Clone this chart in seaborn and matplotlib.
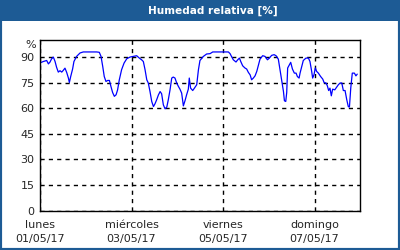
import numpy as np
import pandas as pd
import matplotlib
matplotlib.use("Agg")
import matplotlib.pyplot as plt
import matplotlib.dates as mdates
from matplotlib.patches import Rectangle
import seaborn as sns

# hours since 01/05/17 00:00 and relative humidity (%)
hours = [0, 1.75, 3.5, 4.4, 5.2, 6.1, 7, 7.9, 8.7, 9.6, 10.5, 11.4, 12.2, 13.1, 14, 14.9, 15.4,
         16.1, 17.1, 17.8, 19.2, 21, 22.7, 26.2, 29.7, 31.1, 32, 32.9, 33.7, 34.6, 35.5, 36.4,
         37.2, 38.1, 39, 39.9, 40.7, 41.6, 42.8, 44.1, 45.5, 47.2, 49, 50.7, 52.1, 53.3, 54.2,
         55.1, 56, 56.8, 57.7, 58.6, 59.5, 60.3, 61.2, 62.1, 63, 63.8, 64.7, 65.6, 66.5, 67.3,
         68.2, 69.1, 69.9, 70.8, 71.7, 72.6, 73.4, 74.3, 75.2, 76.1, 76.9, 77.8, 78.3, 79, 80.1,
         81, 82.2, 83.1, 83.9, 85.7, 87.4, 89.2, 90.6, 92.7, 96.2, 98.8, 99.7, 100.6, 101.4,
         102.8, 103.7, 104.6, 105.3, 106.3, 107.5, 108.4, 109.3, 110.2, 111, 111.9, 112.8,
         113.7, 114.5, 115.4, 116.8, 118, 119.3, 120.3, 121.5, 122.8, 123.8, 125, 125.9, 126.8,
         127.7, 128.2, 128.9, 129.4, 129.9, 130.8, 131.5, 132.4, 133.4, 134.3, 135, 135.9,
         136.4, 137.3, 138.1, 139.5, 140.8, 141.6, 142.5, 143, 143.7, 144.4, 145.1, 146, 147.2,
         148.3, 149, 150, 150.7, 151.4, 152.1, 152.8, 153.5, 154.6, 155.6, 156.5, 157.4, 158.3,
         159.1, 160, 160.9, 161.7, 162.3, 163, 163.8, 164.9, 165.7, 166.4]
humidity = [86.6, 87.4, 88, 86, 87, 89, 90, 87.4, 84, 81.2, 82, 81.2, 82.2, 83.5, 81, 77.7, 75.1,
            78.6, 83, 87.4, 90.4, 92.4, 93, 93, 93, 92.8, 90.4, 84.5, 78.6, 75.7, 76.3, 76.3,
            72.8, 69.2, 67, 67.9, 70.8, 76.7, 82.6, 86.5, 89, 90, 90.4, 90.8, 89.4, 88.4, 87.4,
            82.6, 76.7, 74.8, 69.8, 64, 61, 62.6, 65, 67.8, 69.8, 68.5, 62, 59.7, 60.7, 65,
            70.8, 77.7, 78.3, 77.7, 74.8, 72.8, 71.2, 68.9, 61.4, 64.6, 67.9, 71.2, 77.7, 71.8, 70.4,
            71.8, 73.8, 82.6, 88, 90.4, 91.8, 92, 93, 93, 93, 93, 92, 90, 88.4,
            87.1, 88.4, 89.4, 87.4, 84.9, 83.6, 83, 81, 79.6, 76.7, 77.7, 79,
            81.6, 84.9, 88.8, 90.8, 90.4, 88.4, 89.4, 91, 91.4, 90.8, 88.8, 82.6, 76.7,
            69.8, 64.4, 64, 69.2, 83.6, 85.5, 86.9, 83, 80.6, 80.6, 78.6, 77.7,
            80.6, 84.5, 88, 89.4, 89.4, 87.4, 81.6, 77.7, 79.6, 83.6, 81.6, 80.6, 78.6,
            77.1, 75.1, 74.8, 73.2, 70.4, 71.8, 67.3, 71.2, 70.8, 72.4, 73.8, 74.8, 74.8,
            70.4, 70.4, 65, 61, 60.7, 71.9, 80.6, 80.6, 79, 80]
y_ticks = [0, 15, 30, 45, 60, 75, 90]
x_tick_labels = ["lunes\n01/05/17", "miércoles\n03/05/17", "viernes\n05/05/17", "domingo\n07/05/17"]
title = "Humedad relativa [%]"

start = pd.Timestamp("2017-05-01")
df = pd.DataFrame({"time": start + pd.to_timedelta(hours, unit="h"), "hum": humidity})

sns.set_style("white")
plt.rcParams["font.family"] = ["DejaVu Sans"]

fig = plt.figure(figsize=(4, 2.5), dpi=100)
fig.patch.set_facecolor("white")
blue = "#1d5b95"
# outer border and title bar
fig.patches.append(Rectangle((0, 0), 1, 1, transform=fig.transFigure, fill=False,
                             edgecolor=blue, linewidth=3, zorder=0))
fig.patches.append(Rectangle((0, 1 - 20.5 / 250), 1, 20.5 / 250, transform=fig.transFigure,
                             facecolor=blue, edgecolor="none", zorder=1))
fig.text(213 / 400, 1 - 10.5 / 250, title, color="white", fontsize=7.6, fontweight="bold",
         ha="center", va="center")

ax = fig.add_axes([40 / 400, 1 - 210.7 / 250, 320.3 / 400, 170.7 / 250])
sns.lineplot(data=df, x="time", y="hum", ax=ax, color="#0000ff", linewidth=0.9)

ax.set_xlim(start, start + pd.Timedelta(days=7))
ax.set_ylim(0, 100)
ax.set_xlabel("")
ax.set_ylabel("")
ax.set_yticks(y_ticks)
ax.set_yticklabels([str(v) for v in y_ticks])
ax.text(-0.012, 97, "%", transform=ax.get_yaxis_transform(), ha="right", va="center",
        fontsize=8)

major = [start + pd.Timedelta(days=d) for d in (0, 2, 4, 6)]
minor = [start + pd.Timedelta(days=d) for d in (1, 3, 5)]
ax.set_xticks(major)
ax.set_xticklabels(x_tick_labels)
ax.set_xticks(minor, minor=True)
ax.tick_params(axis="x", which="major", length=0, pad=7, labelsize=8)
ax.tick_params(axis="x", which="minor", length=3, direction="in", width=1, color="black")
ax.tick_params(axis="y", length=0, pad=4, labelsize=8)
for lbl in ax.get_xticklabels():
    lbl.set_linespacing(1.45)

ax.grid(True, which="major", color="black", linestyle=(0, (3, 3)), linewidth=1)
for s in ax.spines.values():
    s.set_color("black")
    s.set_linewidth(1)
ax.set_axisbelow(True)

fig.savefig("out.png", dpi=100, facecolor=fig.get_facecolor())
